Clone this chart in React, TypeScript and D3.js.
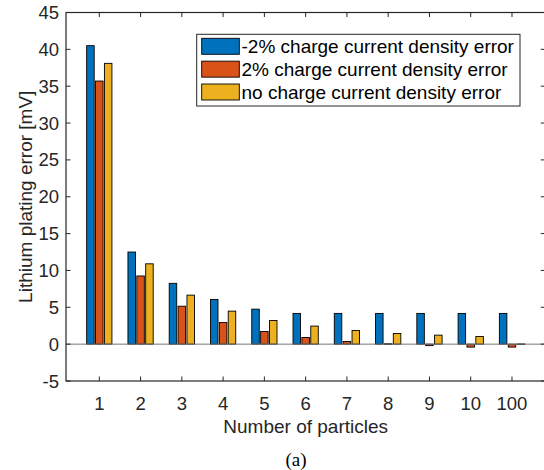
import React from 'react';
import * as d3 from 'd3';

// Lithium plating error per number of particles, three charge current cases
const categories = ['1', '2', '3', '4', '5', '6', '7', '8', '9', '10', '100'];
const seriesNames = [
  '-2% charge current density error',
  '2% charge current density error',
  'no charge current density error',
];
const minus2 = [40.5, 12.5, 8.25, 6.07, 4.75, 4.17, 4.17, 4.17, 4.17, 4.17, 4.17];
const plus2 = [35.7, 9.25, 5.15, 2.94, 1.72, 0.9, 0.36, 0.05, -0.2, -0.4, -0.4];
const noErr = [38.1, 10.9, 6.65, 4.48, 3.21, 2.45, 1.86, 1.45, 1.22, 1.04, 0.03];
const yTicks = [-5, 0, 5, 10, 15, 20, 25, 30, 35, 40, 45];

const series = [minus2, plus2, noErr];
const colors = ['#0072BD', '#D95319', '#EDB120'];

const W = 544;
const H = 470;
const axisColor = '#262626';
const font = 'Liberation Sans, Arial, Helvetica, sans-serif';

export default function App() {
  const left = 66;
  const right = 545.3;
  const top = 12.5;
  const bottom = 381;

  const x = d3.scaleLinear().domain([0.193, 11.807]).range([left, right]);
  const y = d3.scaleLinear().domain([-5, 45]).range([bottom, top]);
  const unit = x(2) - x(1);
  const offset = 0.215;
  const barW = 0.182 * unit;
  const tickLen = 4.5;

  return (
    <div style={{ position: 'absolute', left: 0, top: 0 }}>
      <svg width={W} height={H} style={{ display: 'block', background: '#fff' }}>
        <rect x={0} y={0} width={W} height={H} fill="#fff" />

        {/* bars */}
        {series.map((vals, s) => (
          <g key={s}>
            {vals.map((v, i) => {
              const cx = x(i + 1) + (s - 1) * offset * unit;
              const y0 = y(0);
              const yv = y(v);
              return (
                <rect
                  key={i}
                  x={cx - barW / 2}
                  y={Math.min(y0, yv)}
                  width={barW}
                  height={Math.max(Math.abs(yv - y0), 0.6)}
                  fill={colors[s]}
                  stroke="#000"
                  strokeWidth={0.9}
                />
              );
            })}
          </g>
        ))}

        {/* baseline */}
        <line x1={left} x2={right} y1={y(0)} y2={y(0)} stroke="#777" strokeWidth={1} />

        {/* axes box */}
        <rect
          x={left}
          y={top}
          width={right - left}
          height={bottom - top}
          fill="none"
          stroke={axisColor}
          strokeWidth={1.2}
        />

        {/* y ticks */}
        {yTicks.map((t) => (
          <g key={t}>
            <line x1={left} x2={left + tickLen} y1={y(t)} y2={y(t)} stroke={axisColor} strokeWidth={1} />
            <line x1={right - tickLen} x2={right} y1={y(t)} y2={y(t)} stroke={axisColor} strokeWidth={1} />
            <text
              x={left - 7}
              y={y(t)}
              textAnchor="end"
              dominantBaseline="central"
              fontFamily={font}
              fontSize={18.5}
              fill={axisColor}
            >
              {t}
            </text>
          </g>
        ))}

        {/* x ticks */}
        {categories.map((c, i) => (
          <g key={c}>
            <line x1={x(i + 1)} x2={x(i + 1)} y1={bottom} y2={bottom - tickLen} stroke={axisColor} strokeWidth={1} />
            <line x1={x(i + 1)} x2={x(i + 1)} y1={top} y2={top + tickLen} stroke={axisColor} strokeWidth={1} />
            <text
              x={x(i + 1)}
              y={409.5}
              textAnchor="middle"
              fontFamily={font}
              fontSize={18.5}
              fill={axisColor}
            >
              {c}
            </text>
          </g>
        ))}

        {/* axis labels */}
        <text
          x={(left + right) / 2}
          y={433}
          textAnchor="middle"
          fontFamily={font}
          fontSize={19}
          fill={axisColor}
        >
          Number of particles
        </text>
        <text
          transform={`translate(32, ${(top + bottom) / 2}) rotate(-90)`}
          textAnchor="middle"
          fontFamily={font}
          fontSize={19}
          fill={axisColor}
        >
          Lithium plating error [mV]
        </text>

        {/* legend */}
        <rect x={196.7} y={34.3} width={323.3} height={71.7} fill="#fff" stroke={axisColor} strokeWidth={1} />
        {seriesNames.map((n, s) => {
          const cy = 46.3 + s * 22.85;
          return (
            <g key={n}>
              <rect x={201.7} y={cy - 8} width={37.6} height={16} fill={colors[s]} stroke="#000" strokeWidth={0.9} />
              <text
                x={241.5}
                y={cy}
                dominantBaseline="central"
                fontFamily={font}
                fontSize={19}
                fill="#000"
              >
                {n}
              </text>
            </g>
          );
        })}

        {/* caption */}
        <text
          x={296}
          y={466}
          textAnchor="middle"
          fontFamily="Liberation Serif, Times New Roman, serif"
          fontSize={19}
          fill="#000"
        >
          (a)
        </text>
      </svg>
    </div>
  );
}
